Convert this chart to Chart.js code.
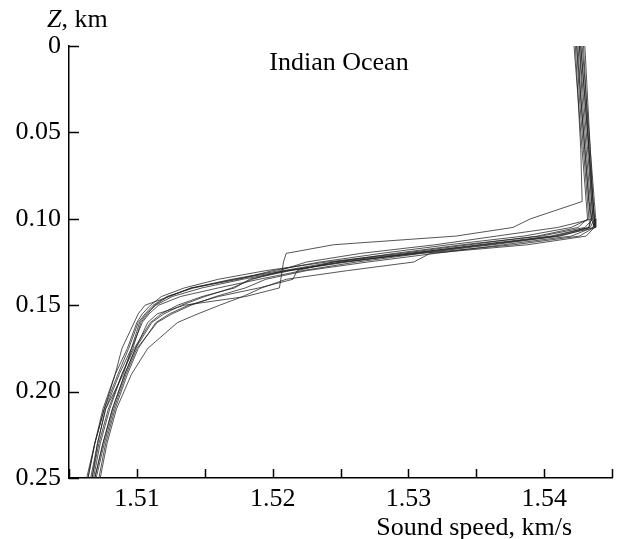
<!DOCTYPE html>
<html>
<head>
<meta charset="utf-8">
<script src="https://cdn.jsdelivr.net/npm/chart.js@4.4.1/dist/chart.umd.min.js"></script>
<style>
  html, body { margin: 0; padding: 0; background: #fff; }
  #wrap { width: 618px; height: 539px; }
</style>
</head>
<body>
<div id="wrap"><canvas id="soundChart" width="618" height="539"></canvas></div>
<script>
// Depth levels (km) shared by all profiles
const depthKm = [0, 0.03, 0.06, 0.09, 0.10, 0.105, 0.11, 0.115, 0.12, 0.125, 0.13,
                 0.135, 0.14, 0.145, 0.15, 0.155, 0.16, 0.175, 0.19, 0.21, 0.23, 0.25];

// Sound speed profiles (km/s), one per station
const profile1  = [1.5423, 1.5425, 1.5427, 1.5428, 1.5390, 1.5377, 1.5335, 1.5245, 1.5210, 1.5208, 1.5207, 1.5206, 1.5205, 1.5180, 1.5135, 1.5115, 1.5108, 1.5099, 1.5091, 1.5082, 1.5075, 1.5069];
const profile2  = [1.5427, 1.5430, 1.5433, 1.5436, 1.5437, 1.5437, 1.5431, 1.5388, 1.5316, 1.5304, 1.5255, 1.5210, 1.5192, 1.5178, 1.5161, 1.5145, 1.5130, 1.5108, 1.5096, 1.5085, 1.5078, 1.5073];
const profile3  = [1.5424, 1.5426, 1.5429, 1.5432, 1.5433, 1.5420, 1.5385, 1.5330, 1.5280, 1.5235, 1.5200, 1.5175, 1.5140, 1.5124, 1.5106, 1.5101, 1.5098, 1.5089, 1.5084, 1.5076, 1.5069, 1.5064];
const profile4  = [1.5426, 1.5429, 1.5432, 1.5435, 1.5436, 1.5410, 1.5365, 1.5320, 1.5265, 1.5225, 1.5205, 1.5170, 1.5140, 1.5123, 1.5113, 1.5108, 1.5103, 1.5097, 1.5089, 1.5080, 1.5073, 1.5068];
const profile5  = [1.5428, 1.5431, 1.5434, 1.5437, 1.5438, 1.5438, 1.5410, 1.5355, 1.5300, 1.5245, 1.5218, 1.5215, 1.5190, 1.5160, 1.5138, 1.5124, 1.5114, 1.5101, 1.5093, 1.5084, 1.5077, 1.5072];
const profile6  = [1.5422, 1.5425, 1.5428, 1.5431, 1.5432, 1.5425, 1.5395, 1.5345, 1.5295, 1.5240, 1.5195, 1.5160, 1.5135, 1.5118, 1.5110, 1.5104, 1.5100, 1.5093, 1.5084, 1.5075, 1.5069, 1.5063];
const profile7  = [1.5427, 1.5430, 1.5433, 1.5436, 1.5437, 1.5436, 1.5420, 1.5370, 1.5320, 1.5270, 1.5225, 1.5195, 1.5180, 1.5158, 1.5140, 1.5126, 1.5115, 1.5100, 1.5092, 1.5083, 1.5076, 1.5070];
const profile8  = [1.5425, 1.5427, 1.5430, 1.5433, 1.5434, 1.5433, 1.5405, 1.5352, 1.5302, 1.5255, 1.5212, 1.5178, 1.5148, 1.5126, 1.5114, 1.5107, 1.5102, 1.5096, 1.5090, 1.5077, 1.5071, 1.5066];
const profile9  = [1.5429, 1.5431, 1.5433, 1.5435, 1.5436, 1.5430, 1.5398, 1.5340, 1.5290, 1.5245, 1.5208, 1.5185, 1.5170, 1.5150, 1.5133, 1.5120, 1.5111, 1.5099, 1.5091, 1.5082, 1.5075, 1.5069];
const profile10 = [1.5424, 1.5427, 1.5430, 1.5433, 1.5435, 1.5437, 1.5426, 1.5378, 1.5310, 1.5262, 1.5222, 1.5190, 1.5160, 1.5132, 1.5116, 1.5109, 1.5104, 1.5096, 1.5087, 1.5077, 1.5071, 1.5067];
const profile11 = [1.5430, 1.5432, 1.5434, 1.5436, 1.5437, 1.5434, 1.5412, 1.5362, 1.5308, 1.5250, 1.5213, 1.5183, 1.5172, 1.5148, 1.5130, 1.5118, 1.5110, 1.5098, 1.5089, 1.5079, 1.5072, 1.5067];
const profile12 = [1.5426, 1.5428, 1.5431, 1.5434, 1.5435, 1.5433, 1.5408, 1.5358, 1.5305, 1.5252, 1.5210, 1.5172, 1.5142, 1.5122, 1.5112, 1.5106, 1.5101, 1.5094, 1.5086, 1.5076, 1.5069, 1.5064];

const profiles = [profile1, profile2, profile3, profile4, profile5, profile6,
                  profile7, profile8, profile9, profile10, profile11, profile12];

// Tick labels
const xTickLabels = ['1.51', '1.52', '1.53', '1.54'];
const yTickLabels = ['0', '0.05', '0.10', '0.15', '0.20', '0.25'];

const FONT = '"Liberation Serif", "Times New Roman", serif';

// Inward tick marks plus the free-standing texts
const decorPlugin = {
    id: 'decor',
    afterDraw(chart) {
        const ctx = chart.ctx;
        const xs = chart.scales.x;
        const ys = chart.scales.y;
        const area = chart.chartArea;
        ctx.save();
        ctx.strokeStyle = '#000';
        ctx.lineWidth = 1.5;
        ctx.beginPath();
        xs.ticks.forEach(t => {
            const px = Math.round(xs.getPixelForValue(t.value)) + 0.5;
            ctx.moveTo(px, area.bottom);
            ctx.lineTo(px, area.bottom - 9);
        });
        ys.ticks.forEach(t => {
            const py = Math.round(ys.getPixelForValue(t.value)) + 0.5;
            ctx.moveTo(area.left, py);
            ctx.lineTo(area.left + 10, py);
        });
        ctx.stroke();

        ctx.fillStyle = '#000';
        ctx.textBaseline = 'middle';
        // "Z, km"
        ctx.textAlign = 'left';
        ctx.font = 'italic 26px ' + FONT;
        ctx.fillText('Z', 47, 20);
        const zw = ctx.measureText('Z').width;
        ctx.font = '26px ' + FONT;
        ctx.fillText(', km', 47 + zw, 20);
        // Region label
        ctx.textAlign = 'center';
        ctx.fillText('Indian Ocean', 339, 63);
        // X axis title
        ctx.textAlign = 'right';
        ctx.fillText('Sound speed, km/s', 572, 528);
        ctx.restore();
    }
};

function initializeChart() {
    const ctx = document.getElementById('soundChart').getContext('2d');
    new Chart(ctx, {
        type: 'scatter',
        data: {
            datasets: profiles.map(p => ({
                data: depthKm.map((z, i) => ({ x: p[i], y: z })),
                showLine: true,
                borderColor: 'rgba(30, 30, 30, 0.75)',
                borderWidth: 1,
                pointRadius: 0,
                fill: false,
                tension: 0
            }))
        },
        options: {
            responsive: false,
            animation: false,
            layout: { padding: { top: 46, right: 1, left: 0, bottom: 0 } },
            plugins: {
                legend: { display: false },
                tooltip: { enabled: false }
            },
            scales: {
                x: {
                    type: 'linear',
                    min: 1.505,
                    max: 1.545,
                    grid: { display: false, drawTicks: false },
                    border: { display: true, color: '#000', width: 1.5 },
                    afterFit(scale) { scale.height = 61; },
                    ticks: {
                        stepSize: 0.005,
                        autoSkip: false,
                        maxRotation: 0,
                        padding: 6,
                        color: '#000',
                        font: { family: FONT, size: 26 },
                        callback: function (value) {
                            const s = value.toFixed(2);
                            const onHundredth = Math.abs(value * 100 - Math.round(value * 100)) < 1e-6;
                            return onHundredth && xTickLabels.includes(s) ? s : '';
                        }
                    }
                },
                y: {
                    type: 'linear',
                    reverse: true,
                    min: 0,
                    max: 0.25,
                    grid: { display: false, drawTicks: false },
                    border: { display: true, color: '#000', width: 1.5 },
                    afterFit(scale) { scale.width = 69; },
                    ticks: {
                        stepSize: 0.05,
                        padding: 8,
                        color: '#000',
                        font: { family: FONT, size: 26 },
                        callback: function (value) {
                            return yTickLabels[Math.round(value / 0.05)];
                        }
                    }
                }
            }
        },
        plugins: [decorPlugin]
    });
}

window.onload = function () {
    initializeChart();
}
</script>
</body>
</html>
